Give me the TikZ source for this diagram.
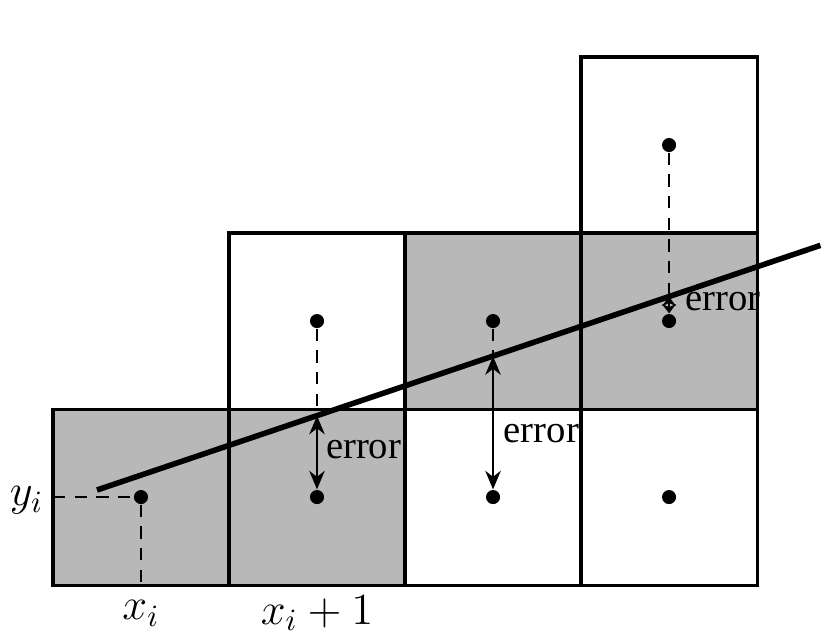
\documentclass[tikz,border=0pt]{standalone}
\usepackage{fontspec}
\setmainfont{Liberation Serif}
\usetikzlibrary{arrows.meta}
\definecolor{cellgray}{gray}{0.72}

\begin{document}
\begin{tikzpicture}[x=2cm,y=2cm,
  cell/.style={draw,line width=1pt},
  dot/.style={circle,fill,inner sep=0pt,minimum size=0.16cm},
  guide/.style={line width=0.7pt,dash pattern=on 4pt off 3pt},
  errarrow/.style={{Stealth[length=6pt,width=5pt]}-{Stealth[length=6pt,width=5pt]},line width=0.8pt},
  errlabel/.style={anchor=west,inner sep=1pt,font=\fontsize{12.5}{14}\selectfont},
  axislabel/.style={font=\fontsize{14}{16}\selectfont}]
  \useasboundingbox (-0.301,-0.307) rectangle (4.386,3.324);
  \fill[cellgray] (0,0) rectangle (2,1);
  \fill[cellgray] (2,1) rectangle (4,2);
  \foreach \x in {0,1,2,3} \draw[cell] (\x,0) rectangle ++(1,1);
  \foreach \x in {1,2,3} \draw[cell] (\x,1) rectangle ++(1,1);
  \draw[cell] (3,2) rectangle ++(1,1);
  \node[dot] (d1) at (0.5,0.5) {};
  \node[dot] (d2) at (1.5,0.5) {};
  \node[dot] (d3) at (1.5,1.5) {};
  \node[dot] (d4) at (2.5,0.5) {};
  \node[dot] (d5) at (2.5,1.5) {};
  \node[dot] (d6) at (3.5,0.5) {};
  \node[dot] (d7) at (3.5,1.5) {};
  \node[dot] (d8) at (3.5,2.5) {};
  \coordinate (ystart) at (0,0.5);
  \coordinate (xstart) at (0.5,0);
  \coordinate (lstart) at (0.25,0.54);
  \coordinate (lend) at (4.36,1.93);
  \coordinate (p1) at (1.5,0.962);
  \coordinate (p2) at (2.5,1.300);
  \coordinate (p3) at (3.5,1.638);
  \draw[guide] (ystart) -- (d1);
  \draw[guide] (d1) -- (xstart);
  \draw[guide] (d3) -- (p1);
  \draw[guide] (d5) -- (p2);
  \draw[guide] (d8) -- (p3);
  \draw[line width=1.8pt] (lstart) -- (lend);
  \draw[errarrow] (p1) -- (d2);
  \draw[errarrow] (p2) -- (d4);
  \draw[{Stealth[length=3pt,width=4.5pt]}-{Stealth[length=3pt,width=4.5pt]},line width=0.8pt] (p3) -- (d7);
  \node[errlabel] (e1) at (1.53,0.77) {error};
  \node[errlabel] (e2) at (2.54,0.86) {error};
  \node[errlabel] (e3) at (3.57,1.61) {error};
  \node[axislabel] (yi) at (-0.15,0.48) {$y_i$};
  \node[axislabel] (xi) at (0.5,-0.16) {$x_i$};
  \node[axislabel] (xi1) at (1.5,-0.16) {$x_i+1$};
\end{tikzpicture}
\end{document}
